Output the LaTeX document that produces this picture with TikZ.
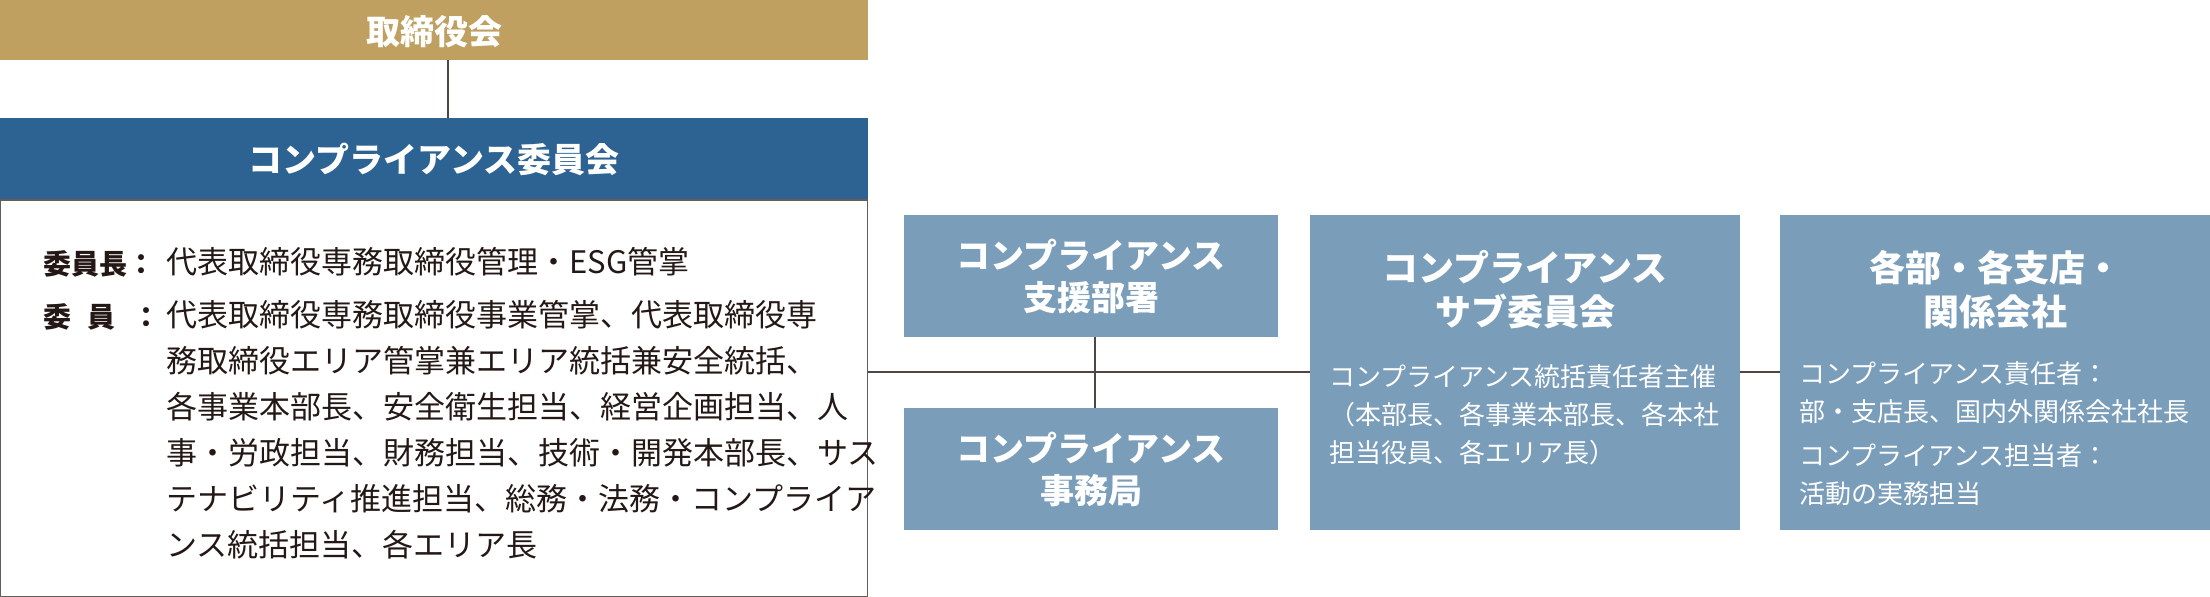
\documentclass[tikz,border=0pt]{standalone}
\usepackage{fontspec}
\setmainfont{Noto Sans CJK JP}
\definecolor{gold}{HTML}{BFA060}
\definecolor{navy}{HTML}{2C6392}
\definecolor{steel}{HTML}{7A9DBA}
\definecolor{ink}{HTML}{231815}
\begin{document}
\begin{tikzpicture}[x=0.5pt,y=-0.5pt,
 bx/.style={draw=none,fill=steel,text=white},
 ttl/.style={text=white,font=\bfseries\fontsize{17}{21}\selectfont,align=center},
 bd/.style={text=white,font=\fontsize{13}{19}\selectfont,align=left,anchor=north west},
 ln/.style={draw=ink!80,line width=0.6pt}]
\useasboundingbox (0,0) rectangle (2210,597);
\fill[gold] (0,0) rectangle (868,60);
\node[ttl] (tori) at (434,32) {取締役会};
\coordinate (toriB) at (448,60);
\fill[navy] (0,118) rectangle (868,200);
\coordinate (iinT) at (448,118);
\node[ttl] (iin) at (434,159) {コンプライアンス委員会};
\draw[ink!70,line width=0.8pt] (0.5,200) rectangle (867.5,596.5);
\coordinate (iinR) at (868,372);
\node[anchor=north west,text=ink,font=\bfseries\fontsize{14}{20}\selectfont] (l1) at (36,243) {委員長：};
\node[anchor=north west,text=ink,font=\bfseries\fontsize{14}{20}\selectfont] (l2) at (36,297) {委\hspace{0.6em}員\hspace{0.6em}：};
\node[anchor=north west,text=ink,font=\fontsize{15.5}{23}\selectfont,align=left,inner sep=0pt] (t1) at (166,247) {代表取締役専務取締役管理・ESG管掌};
\node[anchor=north west,text=ink,font=\fontsize{15.5}{23}\selectfont,align=left,inner sep=0pt] (t2) at (166,300) {代表取締役専務取締役事業管掌、代表取締役専\\務取締役エリア管掌兼エリア統括兼安全統括、\\各事業本部長、安全衛生担当、経営企画担当、人\\事・労政担当、財務担当、技術・開発本部長、サス\\テナビリティ推進担当、総務・法務・コンプライア\\ンス統括担当、各エリア長};
\draw[ln] (toriB) -- (iinT);
% right boxes
\fill[steel] (904,215) rectangle (1278,337);
\node[ttl] (shien) at (1091,276) {コンプライアンス\\支援部署};
\fill[steel] (904,408) rectangle (1278,530);
\node[ttl] (jimu) at (1091,469) {コンプライアンス\\事務局};
\fill[steel] (1310,215) rectangle (1740,530);
\node[ttl,font=\bfseries\fontsize{18}{22}\selectfont] (sub) at (1525,290) {コンプライアンス\\サブ委員会};
\node[bd] (subt) at (1322,358) {コンプライアンス統括責任者主催\\（本部長、各事業本部長、各本社\\担当役員、各エリア長）};
\fill[steel] (1780,215) rectangle (2210,530);
\node[ttl,font=\bfseries\fontsize{18}{22}\selectfont] (kaku) at (1995,290) {各部・各支店・\\関係会社};
\node[bd] (kakut) at (1792,355) {コンプライアンス責任者：\\部・支店長、国内外関係会社社長};
\node[bd] (kakut2) at (1792,437) {コンプライアンス担当者：\\活動の実務担当};
\coordinate (subL) at (1310,372);
\coordinate (subR) at (1740,372);
\coordinate (kakuL) at (1780,372);
\coordinate (shB) at (1095,337);
\coordinate (jmT) at (1095,408);
\draw[ln] (iinR) -- (subL);
\draw[ln] (subR) -- (kakuL);
\draw[ln] (shB) -- (jmT);
\end{tikzpicture}
\end{document}
